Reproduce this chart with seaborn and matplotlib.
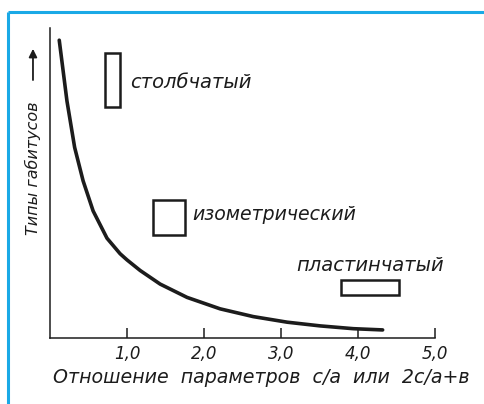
import numpy as np
import pandas as pd
import seaborn as sns
import matplotlib.pyplot as plt
from matplotlib.patches import Rectangle
from matplotlib.lines import Line2D

# curve
ratio = [0.12, 0.22, 0.32, 0.43, 0.56, 0.74, 0.91, 1.00, 1.17, 1.43, 1.78, 2.21, 2.64, 3.08, 3.51, 3.94, 4.32]
habit = [9.61, 7.65, 6.15, 5.07, 4.10, 3.22, 2.72, 2.52, 2.18, 1.74, 1.31, 0.94, 0.69, 0.51, 0.39, 0.30, 0.26]

tick_vals = [1, 2, 3, 4, 5]
tick_labels = ['1,0', '2,0', '3,0', '4,0', '5,0']

habit_names = ['столбчатый', 'изометрический', 'пластинчатый']

sns.set_theme(style='white')
plt.rcParams['font.family'] = ['DejaVu Sans']
plt.rcParams['font.style'] = 'italic'

ink = '#1c1c1c'
df = pd.DataFrame({'ratio': ratio, 'habit': habit})

fig = plt.figure(figsize=(4.85, 4.04), dpi=100)
ax = fig.add_axes([0.1031, 0.1634, 0.7938, 0.767])

sns.lineplot(data=df, x='ratio', y='habit', ax=ax, color=ink, linewidth=2.6)

ax.set_xlim(0, 5)
ax.set_ylim(0, 10)
sns.despine(ax=ax)
for s in ['left', 'bottom']:
    ax.spines[s].set_color(ink)
    ax.spines[s].set_linewidth(1.1)

ax.set_xticks(tick_vals)
ax.set_xticklabels(tick_labels, fontsize=12, color=ink, style='italic')
ax.set_yticks([])
ax.tick_params(axis='x', direction='in', length=7, width=1.1, color=ink, pad=5, bottom=True)
ax.set_xlabel('Отношение  параметров  с/а  или  2с/а+в', fontsize=13.7, color=ink,
              style='italic', va='center')
ax.xaxis.set_label_coords(0.549, -0.129)
ax.set_ylabel('')

# habit shape glyphs
shapes = [(0.714, 7.45, 0.195, 1.74), (1.338, 3.32, 0.415, 1.13), (3.78, 1.39, 0.75, 0.48)]
for x0, y0, w, h in shapes:
    ax.add_patch(Rectangle((x0, y0), w, h, fill=False, edgecolor=ink, linewidth=1.8))

ax.text(1.035, 8.23, habit_names[0], fontsize=14, color=ink, style='italic', va='center')
ax.text(1.85, 3.97, habit_names[1], fontsize=13.6, color=ink, style='italic', va='center')
ax.text(3.20, 2.35, habit_names[2], fontsize=14, color=ink, style='italic', va='center')

# y label with arrow
fig.text(0.068, 0.584, 'Типы габитусов', rotation=90, fontsize=11.5, color=ink,
         style='italic', ha='center', va='center')
ax.annotate('', xy=(0.068, 0.886), xytext=(0.068, 0.795), xycoords='figure fraction',
            arrowprops=dict(arrowstyle='-|>', color=ink, lw=1.3, mutation_scale=12))

# blue frame
frame = '#1aa9e6'
fig.add_artist(Line2D([0.0175, 0.0175], [0.0, 0.97], color=frame, linewidth=2.2,
                      transform=fig.transFigure, solid_capstyle='butt'))
fig.add_artist(Line2D([0.0175, 1.0], [0.97, 0.97], color=frame, linewidth=2.2,
                      transform=fig.transFigure, solid_capstyle='butt'))

fig.savefig('out.png', dpi=100)
